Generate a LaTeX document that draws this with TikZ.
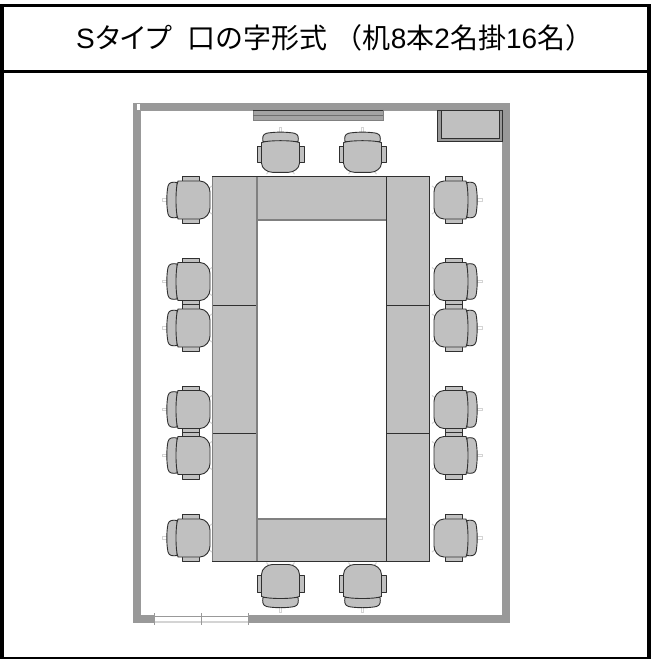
\documentclass[tikz,border=0pt]{standalone}
\usepackage{fontspec}
\setmainfont{Liberation Sans}
\newfontfamily\jpfont{Noto Sans CJK JP}
\definecolor{wallgray}{HTML}{999999}
\definecolor{fillgray}{HTML}{C0C0C0}
\definecolor{edgedark}{HTML}{303030}
\definecolor{edgemid}{HTML}{808080}
\definecolor{paleline}{HTML}{D4D4D4}
\tikzset{
  framerule/.style={draw=black,line width=3pt},
  wallpart/.style={fill=wallgray,draw=none},
  desk/.style={fill=fillgray,draw=edgedark,line width=1pt},
  softedge/.style={draw=edgemid,line width=1.5pt},
  chairpart/.style={fill=fillgray,draw=edgedark,line width=0.9pt,line join=round},
  stub/.style={fill=white,draw=paleline,line width=0.8pt},
  caster/.style={draw=paleline,line width=1pt},
  chair/.pic={
    \draw[caster] (16,-12) -- (19,-14) (16,12) -- (19,14);
    \draw[stub] (-31,-1.2) rectangle (-26,1.2);
    \draw[chairpart] (-11,-23.5) rectangle (6,-18);
    \draw[chairpart] (-11,18) rectangle (6,23.5);
    \draw[chairpart] (-16,-17.5) .. controls (-20,-18.2) and (-24,-18) .. (-25,-14)
      .. controls (-26.6,-6) and (-26.6,6) .. (-25,14)
      .. controls (-24,18) and (-20,18.2) .. (-16,17.5) -- cycle;
    \draw[chairpart] (-15,-19) -- (7,-19) .. controls (13,-19) and (17,-13) .. (17,-8) -- (17,8)
      .. controls (17,13) and (13,19) .. (7,19) -- (-15,19)
      .. controls (-16.5,15) and (-17,8) .. (-17,0) .. controls (-17,-8) and (-16.5,-15) .. (-15,-19) -- cycle;
  }
}
\begin{document}
\begin{tikzpicture}[x=1pt,y=-1pt]
\useasboundingbox (0,0) rectangle (651,659);
\fill[white] (0,0) rectangle (651,659);
% frame
\draw[framerule] (0,5.5) -- (651,5.5);
\draw[framerule] (0,71) -- (651,71);
\draw[framerule,line width=2.5pt] (0,658) -- (651,658);
\draw[framerule,line width=3.5pt] (2,5) -- (2,659);
\draw[framerule,line width=3.5pt] (649,5) -- (649,659);
% title
\node[anchor=base west,inner sep=0pt] (title) at (76,48) {\fontsize{28}{32}\selectfont S{\jpfont タ\hspace{-3pt}イ\hspace{-3pt}プ}\hspace{15pt}{\jpfont 口の字形式}\hspace{7pt}{\jpfont （机}8{\jpfont 本}2{\jpfont 名掛}16{\jpfont 名）}};
% walls
\fill[wallpart] (133,102.5) rectangle (510,110.5);
\fill[wallpart] (133,102.5) rectangle (141,623);
\fill[wallpart] (502,102.5) rectangle (510,623);
\fill[wallpart] (133,615) rectangle (510,623);
\fill[white] (137,103.5) rectangle (140,110);
% screen at top
\fill[fillgray!85!black] (253,109.5) rectangle (383,120.5);
\draw[edgemid,line width=1pt] (253,120.5) -- (383,120.5) (253,109.5) -- (253,120.5) (383,109.5) -- (383,120.5);
\draw[edgedark,line width=1pt] (253,110) -- (383,110);
\draw[edgedark!70,line width=1pt] (253,115) -- (383,115);
% corner cabinet
\draw[fill=wallgray,draw=edgedark,line width=.9pt] (437,110) rectangle (502.5,141.5);
\draw[fill=fillgray,draw=edgedark,line width=.9pt] (441,110) rectangle (499,138);
% window
\fill[white] (154,615) rectangle (248.5,623);
\draw[wallgray,line width=.9pt] (154,616) -- (248.5,616);
\draw[paleline,line width=1.2pt] (154,622) -- (248.5,622);
\draw[wallgray,line width=.9pt] (154,613) -- (154,625) (201,613) -- (201,625) (248.5,613) -- (248.5,625);
% desks
\draw[desk] (257,176.5) rectangle (386,220);
\draw[desk] (257,519) rectangle (386,561.5);
\draw[desk] (212.5,176.5) rectangle (257,305);
\draw[desk] (212.5,305) rectangle (257,433);
\draw[desk] (212.5,433) rectangle (257,561.5);
\draw[desk] (386,176.5) rectangle (429.5,305);
\draw[desk] (386,305) rectangle (429.5,433);
\draw[desk] (386,433) rectangle (429.5,561.5);
\draw[softedge] (212.5,177) -- (212.5,561) (257,177) -- (257,561) (257,220) -- (386,220) (257,519) -- (386,519);
% chairs
\foreach \yy in {200,281.5,328,409.5,455.5,538} {
  \pic at (193,\yy) {chair};
  \pic[rotate=180] at (451,\yy) {chair};
}
\foreach \xx in {280.5,362.5} {
  \pic[rotate=-90,xscale=.93] at (\xx,156.5) {chair};
  \pic[rotate=90] at (\xx,581.5) {chair};
}
\end{tikzpicture}
\end{document}
